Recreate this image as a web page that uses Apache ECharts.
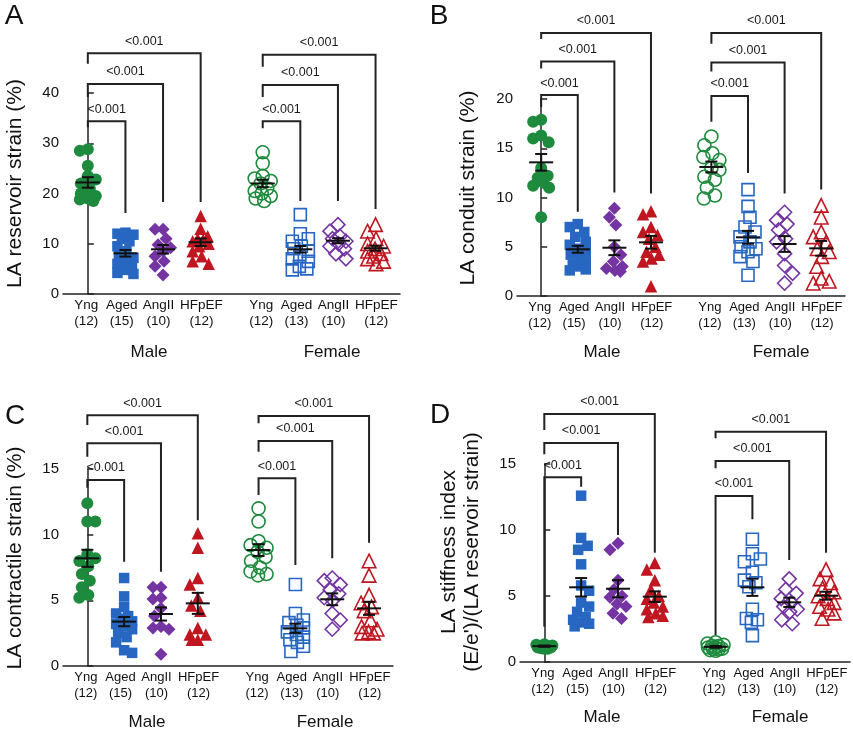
<!DOCTYPE html>
<html><head><meta charset="utf-8">
<script src="https://cdn.jsdelivr.net/npm/echarts@6/dist/echarts.min.js"></script>
<style>html,body{margin:0;padding:0;background:#fff}#c{width:853px;height:732px}</style>
</head><body><div id="c"></div>
<script>
// ---------- data ----------
const groupNames = ['Yng', 'Aged', 'AngII', 'HFpEF'];
const maleN = [12, 15, 10, 12];
const femaleN = [12, 13, 10, 12];
const pLabel = '<0.001';
const yTicksA = [0, 10, 20, 30, 40];
const yTicksB = [0, 5, 10, 15, 20];
const yTicksC = [0, 5, 10, 15];
const yTicksD = [0, 5, 10, 15];

// A: LA reservoir strain (%)
const reservoirMale = [
  [28.8, 28.5, 25.5, 23.5, 22.8, 22.0, 21.0, 20.0, 19.5, 19.0, 18.8, 18.5],
  [12.2, 12.0, 11.8, 11.0, 10.5, 9.5, 8.5, 8.0, 7.2, 6.5, 6.0, 5.5, 4.8, 4.2, 4.0],
  [12.9, 12.9, 11.0, 9.8, 9.2, 8.5, 7.5, 6.5, 5.5, 3.8],
  [15.5, 13.0, 11.5, 11.0, 10.8, 10.5, 10.0, 9.5, 8.5, 7.5, 6.5, 6.0]
];
const reservoirFemale = [
  [28.2, 26.0, 23.5, 23.0, 22.5, 22.0, 21.0, 20.5, 20.0, 19.5, 19.0, 18.5],
  [15.8, 12.0, 11.0, 10.5, 9.5, 9.0, 8.5, 7.5, 7.0, 6.5, 5.5, 5.0, 4.8],
  [13.8, 12.5, 11.5, 11.0, 10.5, 10.0, 9.5, 9.0, 8.0, 7.0],
  [13.8, 12.5, 11.0, 10.0, 9.5, 9.0, 8.5, 8.0, 7.5, 7.0, 6.5, 6.0]
];
const reservoirMean = [22.2, 8.1, 8.9, 10.3, 22.0, 8.9, 10.6, 9.1];
const reservoirSem = [1.05, 0.65, 0.85, 0.75, 0.75, 0.65, 0.5, 0.5];
// [fromGroup, toGroup, bracketTop, leftLegEnd, rightLegEnd]
const reservoirBrackets = [
  [0, 1, 34.4, 33.2, 16.1], [0, 2, 41.8, 39.2, 18.3], [0, 3, 47.9, 45.8, 18.3],
  [4, 5, 34.4, 33.0, 18.5], [4, 6, 41.6, 39.2, 18.5], [4, 7, 47.6, 45.2, 16.9]
];

// B: LA conduit strain (%)
const conduitMale = [
  [17.9, 17.7, 16.3, 16.0, 15.6, 13.0, 12.2, 12.0, 11.5, 11.2, 11.0, 8.0],
  [7.3, 7.0, 6.5, 6.0, 5.5, 5.2, 4.8, 4.5, 4.2, 4.0, 3.5, 3.2, 3.0, 2.7, 2.6],
  [8.9, 8.0, 7.2, 5.0, 4.2, 3.5, 3.0, 2.8, 2.6, 2.5],
  [8.6, 8.3, 7.0, 6.5, 6.2, 5.8, 5.0, 4.5, 4.2, 3.8, 3.5, 1.0]
];
const conduitFemale = [
  [16.2, 15.3, 14.5, 14.1, 13.8, 13.0, 12.8, 12.1, 11.8, 11.0, 10.2, 9.9],
  [10.8, 9.1, 8.0, 7.0, 6.5, 6.0, 5.5, 5.0, 4.8, 4.5, 4.0, 3.5, 2.1],
  [8.5, 7.7, 7.3, 6.7, 5.8, 5.5, 4.3, 3.1, 2.3, 1.3],
  [9.2, 8.0, 6.5, 6.0, 5.5, 4.8, 4.5, 4.0, 3.0, 1.8, 1.5, 1.3]
];
const conduitMean = [13.57, 4.74, 4.9, 5.45, 13.1, 5.96, 5.28, 4.84];
const conduitSem = [0.85, 0.35, 0.75, 0.65, 0.55, 0.65, 0.8, 0.75];
const conduitBrackets = [
  [0, 1, 20.4, 19.2, 8.56], [0, 2, 23.8, 23.1, 10.5], [0, 3, 26.7, 26.1, 10.4],
  [4, 5, 20.3, 17.7, 12.5], [4, 6, 23.7, 22.8, 10.4], [4, 7, 26.7, 25.6, 10.8]
];

// C: LA contractile strain (%)
const contractileMale = [
  [12.4, 11.0, 11.0, 8.5, 8.2, 8.0, 7.6, 7.0, 6.5, 6.0, 5.4, 5.2],
  [6.7, 5.3, 4.5, 4.0, 3.8, 3.6, 3.4, 3.2, 3.0, 2.8, 2.5, 2.2, 1.8, 1.2, 1.0],
  [6.0, 6.0, 5.2, 5.1, 4.4, 3.8, 3.0, 2.9, 2.8, 0.9],
  [10.1, 9.0, 6.7, 6.2, 5.2, 4.6, 4.2, 2.9, 2.4, 2.4, 2.0, 2.0]
];
const contractileFemale = [
  [12.0, 11.0, 9.5, 9.2, 9.0, 8.7, 8.3, 8.0, 7.5, 7.2, 7.0, 6.9],
  [6.2, 4.0, 3.5, 3.3, 3.1, 2.9, 2.6, 2.4, 2.2, 2.0, 1.8, 1.5, 1.1],
  [6.7, 6.5, 6.2, 5.8, 5.5, 5.2, 5.0, 4.0, 3.5, 2.8],
  [8.0, 6.9, 5.4, 4.8, 4.5, 4.2, 3.5, 3.0, 2.8, 2.6, 2.5, 2.5]
];
const contractileMean = [8.2, 3.38, 3.96, 4.77, 8.83, 2.87, 5.08, 4.39];
const contractileSem = [0.65, 0.35, 0.5, 0.8, 0.45, 0.35, 0.45, 0.5];
const contractileBrackets = [
  [0, 1, 14.17, 13.58, 7.94], [0, 2, 16.96, 15.94, 7.18], [0, 3, 19.1, 18.35, 11.1],
  [4, 5, 14.29, 13.02, 7.69], [4, 6, 17.14, 16.32, 8.2], [4, 7, 19.04, 18.48, 9.39]
];

// D: LA stiffness index
const stiffnessMale = [
  [1.35, 1.3, 1.25, 1.2, 1.2, 1.15, 1.15, 1.1, 1.1, 1.05, 1.0, 1.0],
  [12.6, 9.4, 8.8, 8.5, 7.4, 5.8, 5.4, 4.5, 4.2, 3.8, 3.4, 3.2, 3.0, 2.9, 2.7],
  [9.0, 8.5, 6.2, 5.5, 5.0, 4.9, 4.4, 4.2, 3.7, 3.3],
  [7.5, 7.0, 6.2, 5.5, 5.0, 4.8, 4.5, 4.2, 4.0, 3.7, 3.5, 3.4]
];
const stiffnessFemale = [
  [1.5, 1.4, 1.3, 1.2, 1.2, 1.1, 1.1, 1.0, 1.0, 0.95, 0.9, 0.85],
  [9.3, 8.2, 7.8, 7.6, 6.8, 6.2, 6.0, 5.7, 4.0, 3.3, 3.2, 3.0, 2.0],
  [6.3, 5.5, 5.2, 4.8, 4.5, 4.2, 4.0, 3.8, 3.2, 2.9],
  [7.0, 6.3, 6.0, 5.6, 5.3, 5.0, 4.8, 4.5, 4.2, 4.0, 3.7, 3.3]
];
const stiffnessMean = [1.2, 5.66, 5.55, 4.95, 1.15, 5.66, 4.52, 5.02];
const stiffnessSem = [0.05, 0.7, 0.65, 0.4, 0.07, 0.65, 0.35, 0.3];
const stiffnessBrackets = [
  [0, 1, 13.99, 2.67, 13.28], [0, 2, 16.6, 15.73, 9.62], [0, 3, 18.79, 17.58, 8.28],
  [4, 5, 12.58, 2.05, 10.81], [4, 6, 15.23, 14.67, 7.73], [4, 7, 17.45, 16.95, 8.28]
];

// ---------- layout / style ----------
const FONT = '"Liberation Sans", Arial, Helvetica, sans-serif';
const xPos = [0, 1, 2, 3, 4.65, 5.65, 6.65, 7.65];
const labelShift = [-0.04, -0.1, -0.12, 0.02];
const labelPos = xPos.map((x, i) => +(x + labelShift[i % 4]).toFixed(4));
const XMIN = -0.66, XMAX = 8.3;
const colors = ['#1d8a3d', '#2767c2', '#7435a3', '#c0161f'];
const symbols = ['circle', 'rect', 'diamond', 'triangle'];
const filledSize = [12, 10.5, 13, 12.5];
const hollowSize = [13, 12, 14, 13.5];

const panels = [
  { grid: { left: 63, top: 93, width: 337, height: 201 }, ticks: yTicksA, fs: 13.5,
    male: reservoirMale, female: reservoirFemale, mean: reservoirMean, sem: reservoirSem, br: reservoirBrackets },
  { grid: { left: 517, top: 99, width: 328, height: 197 }, ticks: yTicksB, fs: 13,
    male: conduitMale, female: conduitFemale, mean: conduitMean, sem: conduitSem, br: conduitBrackets },
  { grid: { left: 63, top: 469, width: 330, height: 197 }, ticks: yTicksC, fs: 13,
    male: contractileMale, female: contractileFemale, mean: contractileMean, sem: contractileSem, br: contractileBrackets },
  { grid: { left: 520, top: 464, width: 330, height: 198 }, ticks: yTicksD, fs: 13,
    male: stiffnessMale, female: stiffnessFemale, mean: stiffnessMean, sem: stiffnessSem, br: stiffnessBrackets }
];

// beeswarm offsets (in x data units) computed from the values
function swarm(vals, pxX, pxY, minD, maxOff) {
  const order = vals.map((v, i) => i).sort((a, b) => vals[b] - vals[a]);
  const placed = [];
  const off = new Array(vals.length).fill(0);
  order.forEach((i, n) => {
    const y = vals[i] * pxY;
    let chosen = null, bestScore = -1, bestC = 0;
    for (let k = 0; k <= maxOff * 2 && chosen === null; k++) {
      const s = (n % 2 === 0) ? 1 : -1;
      const cands = k === 0 ? [0] : [s * k * 0.5, -s * k * 0.5];
      for (const c of cands) {
        let md = Infinity;
        placed.forEach(p => { md = Math.min(md, Math.hypot(p[0] - c, p[1] - y)); });
        if (md >= minD) { chosen = c; break; }
        if (md > bestScore + 0.01) { bestScore = md; bestC = c; }
      }
    }
    if (chosen === null) chosen = bestC;
    placed.push([chosen, y]);
    off[i] = chosen / pxX;
  });
  return off;
}

function renderErr(params, api) {
  const x = api.value(0), m = api.value(1), s = api.value(2);
  const pm = api.coord([x, m]), ph = api.coord([x, m + s]), pl = api.coord([x, m - s]);
  const st = { stroke: '#111', lineWidth: 2 };
  return { type: 'group', children: [
    { type: 'line', shape: { x1: pm[0] - 12, y1: pm[1], x2: pm[0] + 12, y2: pm[1] }, style: st },
    { type: 'line', shape: { x1: ph[0], y1: ph[1], x2: pl[0], y2: pl[1] }, style: st },
    { type: 'line', shape: { x1: ph[0] - 6, y1: ph[1], x2: ph[0] + 6, y2: ph[1] }, style: st },
    { type: 'line', shape: { x1: pl[0] - 6, y1: pl[1], x2: pl[0] + 6, y2: pl[1] }, style: st }
  ] };
}

function renderBr(params, api) {
  const x1 = api.value(0), x2 = api.value(1), yt = api.value(2), yl = api.value(3), yr = api.value(4);
  const a = api.coord([x1, yl]), b = api.coord([x1, yt]), c = api.coord([x2, yt]), d = api.coord([x2, yr]);
  return { type: 'group', children: [
    { type: 'polyline', shape: { points: [a, b, c, d] }, style: { stroke: '#222', lineWidth: 2, fill: 'none' } },
    { type: 'text', x: (b[0] + c[0]) / 2, y: b[1] - 12,
      style: { text: pLabel, fill: '#1a1a1a', font: '12.5px ' + FONT, align: 'center', verticalAlign: 'middle' } }
  ] };
}

const grids = [], xAxes = [], yAxes = [], series = [];
panels.forEach((p, pi) => {
  grids.push(p.grid);
  const ymax = p.ticks[p.ticks.length - 1];
  const pxX = p.grid.width / (XMAX - XMIN);
  const pxY = p.grid.height / ymax;
  xAxes.push({
    type: 'value', gridIndex: pi, min: XMIN, max: XMAX,
    axisLine: { show: true, lineStyle: { color: '#222', width: 1.5 } },
    axisTick: { show: false }, splitLine: { show: false },
    axisLabel: {
      customValues: labelPos, showMinLabel: true, showMaxLabel: true, hideOverlap: false,
      margin: 3, fontSize: p.fs, lineHeight: 16, color: '#111', fontFamily: FONT,
      formatter: (v) => {
        const i = labelPos.findIndex(x => Math.abs(x - v) < 1e-3);
        if (i < 0) return '';
        const n = i < 4 ? maleN[i] : femaleN[i - 4];
        return groupNames[i % 4] + '\n(' + n + ')';
      }
    }
  });
  yAxes.push({
    type: 'value', gridIndex: pi, min: 0, max: ymax, interval: p.ticks[1] - p.ticks[0],
    axisLine: { show: true, lineStyle: { color: '#222', width: 1.5 } },
    axisTick: { show: true, inside: true, length: 6, lineStyle: { color: '#222', width: 1.5 } },
    splitLine: { show: false },
    axisLabel: { margin: 4, fontSize: 15, color: '#111', fontFamily: FONT }
  });
  [p.male, p.female].forEach((sexData, si) => {
    sexData.forEach((vals, g) => {
      const gi = si * 4 + g;
      const off = swarm(vals, pxX, pxY, si === 0 ? 10 : 11, 8);
      const hollow = si === 1;
      series.push({
        type: 'scatter', xAxisIndex: pi, yAxisIndex: pi, z: 2,
        symbol: symbols[g], symbolSize: hollow ? hollowSize[g] : filledSize[g],
        itemStyle: hollow
          ? { color: 'rgba(255,255,255,0)', borderColor: colors[g], borderWidth: 1.6, opacity: 1 }
          : { color: colors[g], opacity: 1 },
        emphasis: { disabled: true },
        data: vals.map((v, i) => [xPos[gi] + off[i], v])
      });
    });
  });
  series.push({
    type: 'custom', xAxisIndex: pi, yAxisIndex: pi, z: 5, clip: false,
    renderItem: renderErr,
    data: xPos.map((x, i) => [x, p.mean[i], p.sem[i]])
  });
  series.push({
    type: 'custom', xAxisIndex: pi, yAxisIndex: pi, z: 4, clip: false,
    renderItem: renderBr,
    data: p.br.map(b => [xPos[b[0]], xPos[b[1]], b[2], b[3], b[4]])
  });
});

function txt(x, y, text, size, rot, lh) {
  return { type: 'text', x: x, y: y, rotation: rot || 0, z: 10,
    style: { text: text, font: size + 'px ' + FONT, fill: '#111', align: 'center', verticalAlign: 'middle', lineHeight: lh || size } };
}
const R = Math.PI / 2;
const graphics = [
  txt(14, 16, 'A', 28), txt(439, 16.5, 'B', 28), txt(15, 416, 'C', 28), txt(440, 415.5, 'D', 28),
  txt(15, 183.5, 'LA reservoir strain (%)', 21, R),
  txt(468, 188, 'LA conduit strain (%)', 21, R),
  txt(15, 558, 'LA contractile strain (%)', 21, R),
  txt(461, 552, "LA stiffness index\n(E/e')/(LA reservoir strain)", 21, R, 23),
  txt(149, 352, 'Male', 17), txt(332, 352, 'Female', 17),
  txt(602, 352, 'Male', 17), txt(781, 352, 'Female', 17),
  txt(147, 722, 'Male', 17), txt(325, 722, 'Female', 17),
  txt(602, 717, 'Male', 17), txt(780, 717, 'Female', 17)
];

const chart = echarts.init(document.getElementById('c'), null, { renderer: 'canvas' });
chart.setOption({
  animation: false,
  backgroundColor: '#fff',
  textStyle: { fontFamily: FONT },
  grid: grids, xAxis: xAxes, yAxis: yAxes, series: series, graphic: graphics
});
</script>
</body></html>
